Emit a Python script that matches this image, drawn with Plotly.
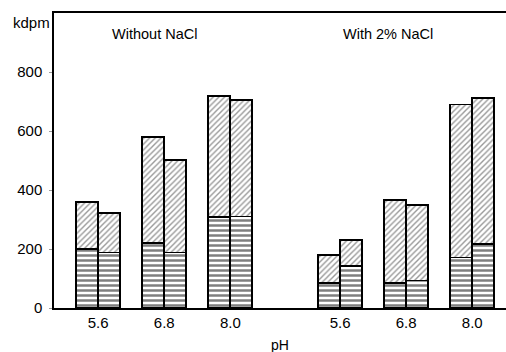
import plotly.graph_objects as go

ph_labels = ["5.6", "6.8", "8.0"]
conditions = ["Without NaCl", "With 2% NaCl"]
# totals per bar (two bars per pH), per condition
totals_a = [360, 580, 720, 180, 365, 690]
totals_b = [322, 502, 705, 230, 348, 713]
bottom_a = [199, 220, 308, 84, 84, 171]
bottom_b = [188, 188, 310, 143, 93, 216]
y_ticks = [0, 200, 400, 600, 800]

# layout positions of pH pairs
group_step = 3.66
centers = []
for g in range(len(conditions)):
    for i in range(len(ph_labels)):
        centers.append(1 + i + g * group_step)

half = 1 / 6
xs = []
bottoms = []
tops = []
for k, c in enumerate(centers):
    xs += [c - half, c + half]
    bottoms += [bottom_a[k], bottom_b[k]]
    tops += [totals_a[k] - bottom_a[k], totals_b[k] - bottom_b[k]]

fig = go.Figure()
fig.add_trace(go.Bar(
    x=xs, y=bottoms, width=1/3,
    marker=dict(color="white", line=dict(color="black", width=1.8),
                pattern=dict(shape="-", fgcolor="black", bgcolor="white",
                             size=5, solidity=0.5)),
    showlegend=False, hoverinfo="skip",
))
fig.add_trace(go.Bar(
    x=xs, y=tops, width=1/3,
    marker=dict(color="white", line=dict(color="black", width=1.8),
                pattern=dict(shape="/", fgcolor="#333333", bgcolor="white",
                             size=4, solidity=0.35)),
    showlegend=False, hoverinfo="skip",
))

font_family = "Liberation Sans, Arial, sans-serif"
fig.update_layout(
    barmode="stack",
    width=506, height=352,
    margin=dict(l=54, r=0, t=13, b=44),
    paper_bgcolor="white", plot_bgcolor="white",
    font=dict(family=font_family, size=15, color="black"),
    xaxis=dict(range=[0.333, 7.17], showline=True, linecolor="black",
               linewidth=1.5, mirror=True, showgrid=False, zeroline=False,
               tickvals=centers, ticktext=ph_labels * len(conditions),
               ticks="", tickfont=dict(size=15)),
    yaxis=dict(range=[0, 1000], showline=True, linecolor="black",
               linewidth=1.5, showgrid=False, zeroline=False,
               tickvals=y_ticks, ticks="outside", ticklen=3,
               ticklabelstandoff=4,
               tickcolor="#999999", tickfont=dict(size=15)),
    annotations=[
        dict(text="kdpm", xref="paper", yref="paper", x=-0.05, y=0.967,
             xanchor="center", yanchor="middle", showarrow=False,
             font=dict(size=15)),
        dict(text=conditions[0], x=centers[1] - 0.15, y=930, xref="x", yref="y",
             showarrow=False, font=dict(size=14.5)),
        dict(text=conditions[1], x=centers[4] - 0.27, y=930, xref="x", yref="y",
             showarrow=False, font=dict(size=14.5)),
        dict(text="pH", xref="paper", yref="paper", x=0.50, y=-0.125,
             xanchor="center", yanchor="middle", showarrow=False,
             font=dict(size=14)),
    ],
)

fig.write_html("out.html", config={"displayModeBar": False},
               post_script="document.body.style.margin='0';")
